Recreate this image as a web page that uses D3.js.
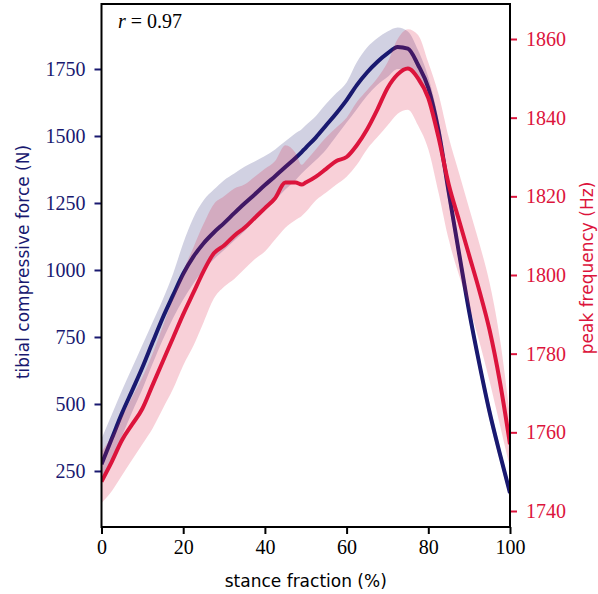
<!DOCTYPE html>
<html>
<head>
<meta charset="utf-8">
<script src="https://cdn.jsdelivr.net/npm/d3@7"></script>
<style>
  body { margin: 0; background: #fff; }
  .serif { font-family: "Liberation Serif", "DejaVu Serif", "Times New Roman", serif; }
  .sans { font-family: "DejaVu Sans", sans-serif; }
</style>
</head>
<body>
<div id="chart-area"></div>
<script>
// stance fraction (%) sample points
const stance = [0, 2.5, 5, 7.5, 10, 12.5, 15, 17.5, 20, 22.5, 25, 27.5, 30, 32.5, 35, 37.5, 40, 42.5, 45, 47.5, 49, 50, 52.5, 55, 57.5, 60, 62.5, 65, 67.5, 70, 72.5, 75, 77.5, 80, 82.5, 85, 87.5, 90, 92.5, 95, 97.5, 100];

// tibial compressive force (N): mean and band
const forceMean = [275, 370, 465, 550, 636, 730, 822, 905, 986, 1050, 1100, 1140, 1175, 1212, 1248, 1282, 1317, 1350, 1384, 1418, 1440, 1456, 1495, 1540, 1585, 1634, 1690, 1737, 1776, 1808, 1832, 1826, 1765, 1680, 1520, 1290, 1065, 845, 650, 470, 315, 168];
const forceUpper = [370, 460, 550, 635, 720, 805, 890, 985, 1100, 1195, 1260, 1300, 1335, 1360, 1385, 1405, 1425, 1450, 1480, 1510, 1525, 1540, 1575, 1620, 1660, 1700, 1775, 1830, 1865, 1890, 1905, 1890, 1820, 1720, 1560, 1330, 1100, 880, 680, 500, 340, 190];
const forceLower = [200, 290, 380, 470, 555, 650, 740, 820, 890, 950, 1000, 1040, 1075, 1110, 1145, 1185, 1220, 1260, 1300, 1335, 1360, 1375, 1410, 1450, 1500, 1550, 1600, 1650, 1690, 1720, 1750, 1750, 1700, 1630, 1480, 1250, 1030, 815, 620, 440, 290, 145];

// peak frequency (Hz): mean and band
const freqMean = [1747.5, 1752.5, 1758, 1762, 1766, 1772, 1778, 1784, 1790, 1795.5, 1801, 1805.5, 1807.5, 1810, 1812, 1814.5, 1817, 1819.5, 1823.5, 1823.5, 1823, 1823.5, 1825, 1827, 1829, 1830, 1833, 1837, 1842, 1847.5, 1851, 1852.5, 1850, 1845, 1835, 1823, 1814, 1805, 1796, 1786, 1773, 1757];
const freqUpper = [1755, 1759, 1764, 1769, 1774, 1780, 1787, 1794, 1801, 1807, 1813, 1818, 1820, 1822, 1823, 1825, 1827, 1829, 1833, 1831, 1828, 1829, 1832, 1835, 1837.5, 1840, 1844, 1847, 1850, 1854, 1860, 1862.5, 1861, 1854, 1846, 1835, 1826, 1817, 1808, 1798, 1784, 1764];
const freqLower = [1742, 1745, 1749, 1753, 1757, 1761, 1766, 1771, 1777, 1782, 1788, 1794, 1797, 1799, 1801.5, 1804, 1806, 1809, 1812, 1814, 1815, 1816, 1819, 1821, 1823, 1825, 1828, 1832, 1835, 1838, 1841, 1842, 1838, 1832, 1821, 1809, 1800, 1792, 1783, 1773, 1762, 1751];

const xTicks = [0, 20, 40, 60, 80, 100];
const forceTicks = [250, 500, 750, 1000, 1250, 1500, 1750];
const freqTicks = [1740, 1760, 1780, 1800, 1820, 1840, 1860];

const blue = "#191970";
const red = "#dc143c";

const width = 598, height = 594;
const plot = { left: 101.5, right: 510, top: 4, bottom: 527 };

const svg = d3.select("#chart-area")
  .append("svg")
  .attr("width", width)
  .attr("height", height);

const x = d3.scaleLinear().domain([0, 100]).range([plot.left, plot.right]);
const yF = d3.scaleLinear().domain([41, 1992.5]).range([plot.bottom, plot.top]);
const yH = d3.scaleLinear().domain([1735.93, 1868.9]).range([plot.bottom, plot.top]);

svg.append("clipPath").attr("id", "clip")
  .append("rect")
  .attr("x", plot.left).attr("y", plot.top)
  .attr("width", plot.right - plot.left)
  .attr("height", plot.bottom - plot.top);

const g = svg.append("g").attr("clip-path", "url(#clip)");

const curve = d3.curveMonotoneX;
const idx = d3.range(stance.length);

// force band + line
g.append("path")
  .datum(idx)
  .attr("fill", blue).attr("fill-opacity", 0.2)
  .attr("d", d3.area().curve(curve)
    .x(i => x(stance[i])).y0(i => yF(forceLower[i])).y1(i => yF(forceUpper[i])));
g.append("path")
  .datum(idx)
  .attr("fill", "none").attr("stroke", blue).attr("stroke-width", 4)
  .attr("d", d3.line().curve(curve).x(i => x(stance[i])).y(i => yF(forceMean[i])));

// frequency band + line
g.append("path")
  .datum(idx)
  .attr("fill", red).attr("fill-opacity", 0.2)
  .attr("d", d3.area().curve(curve)
    .x(i => x(stance[i])).y0(i => yH(freqLower[i])).y1(i => yH(freqUpper[i])));
g.append("path")
  .datum(idx)
  .attr("fill", "none").attr("stroke", red).attr("stroke-width", 4)
  .attr("d", d3.line().curve(curve).x(i => x(stance[i])).y(i => yH(freqMean[i])));

// axes
function styleAxis(sel, color) {
  sel.attr("font-family", null).attr("font-size", null);
  sel.select(".domain").remove();
  sel.selectAll(".tick line").attr("stroke", color).attr("stroke-width", 2);
  sel.selectAll(".tick text").attr("fill", color)
    .attr("class", "serif").style("font-size", "20px");
}

const gx = svg.append("g")
  .attr("transform", `translate(0,${plot.bottom})`)
  .call(d3.axisBottom(x).tickValues(xTicks).tickFormat(d3.format("d")).tickSize(7).tickPadding(6));
styleAxis(gx, "#000");

const gl = svg.append("g")
  .attr("transform", `translate(${plot.left},0)`)
  .call(d3.axisLeft(yF).tickValues(forceTicks).tickFormat(d3.format("d")).tickSize(7).tickPadding(9));
styleAxis(gl, blue);

const gr = svg.append("g")
  .attr("transform", `translate(${plot.right},0)`)
  .call(d3.axisRight(yH).tickValues(freqTicks).tickFormat(d3.format("d")).tickSize(7).tickPadding(9));
styleAxis(gr, red);

// frame
svg.append("rect")
  .attr("x", plot.left).attr("y", plot.top)
  .attr("width", plot.right - plot.left)
  .attr("height", plot.bottom - plot.top)
  .attr("fill", "none").attr("stroke", "#000").attr("stroke-width", 2);

// labels
svg.append("text")
  .attr("class", "sans")
  .attr("x", (plot.left + plot.right) / 2).attr("y", 587)
  .attr("text-anchor", "middle")
  .style("font-size", "17px")
  .text("stance fraction (%)");

svg.append("text")
  .attr("class", "sans")
  .attr("transform", `translate(29,262) rotate(-90)`)
  .attr("text-anchor", "middle")
  .style("font-size", "17px")
  .attr("fill", blue)
  .text("tibial compressive force (N)");

svg.append("text")
  .attr("class", "sans")
  .attr("transform", `translate(593,268) rotate(-90)`)
  .attr("text-anchor", "middle")
  .style("font-size", "17px")
  .attr("fill", red)
  .text("peak frequency (Hz)");

const rt = svg.append("text")
  .attr("class", "serif")
  .attr("x", 118).attr("y", 28)
  .style("font-size", "20px");
rt.append("tspan").style("font-style", "italic").text("r");
rt.append("tspan").text(" = 0.97");
</script>
</body>
</html>
